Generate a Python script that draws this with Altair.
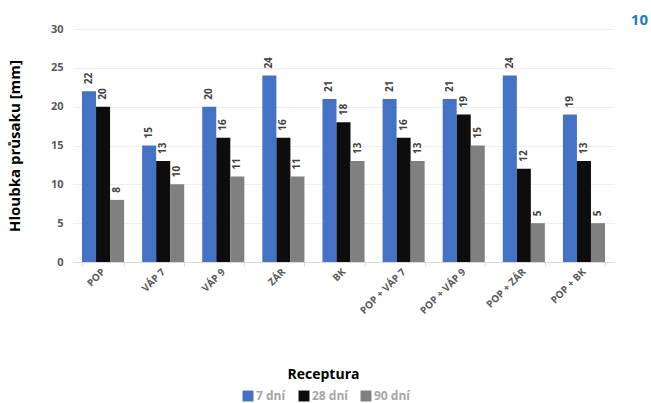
import altair as alt
import pandas as pd

categories = ["POP", "VÁP 7", "VÁP 9", "ZÁR", "BK", "POP + VÁP 7", "POP + VÁP 9", "POP + ZÁR", "POP + BK"]
series = ["7 dní", "28 dní", "90 dní"]
d7 = [22, 15, 20, 24, 21, 21, 21, 24, 19]
d28 = [20, 13, 16, 16, 18, 16, 19, 12, 13]
d90 = [8, 10, 11, 11, 13, 13, 15, 5, 5]
colors = ["#4472C4", "#0d0d0d", "#808080"]
y_ticks = [0, 5, 10, 15, 20, 25, 30]

rows = []
for s, vals in zip(series, [d7, d28, d90]):
    for c, v in zip(categories, vals):
        rows.append({"Receptura": c, "Serie": s, "Hodnota": v})
df = pd.DataFrame(rows)

FONT = "Open Sans"

x_enc = alt.X(
    "Receptura:N",
    sort=categories,
    scale=alt.Scale(paddingInner=0.3, paddingOuter=0.15),
    axis=alt.Axis(
        title="Receptura",
        labelAngle=-45,
        labelAlign="right",
        labelBaseline="middle",
        labelPadding=4,
        labelFontSize=10,
        labelFontWeight="bold",
        labelColor="#595959",
        labelFont=FONT,
        tickBand="extent",
        tickColor="#d9d9d9",
        tickSize=4,
        domainColor="#d9d9d9",
        titleFont=FONT,
        titleFontSize=14,
        titleFontWeight="bold",
        titleColor="#000000",
        titleX=250,
        titleY=116,
        titleAlign="center",
        titleBaseline="alphabetic",
    ),
)
xoff = alt.XOffset("Serie:N", sort=series)
y_enc = alt.Y(
    "Hodnota:Q",
    scale=alt.Scale(domain=[0, 30]),
    axis=alt.Axis(
        title="Hloubka průsaku [mm]",
        values=y_ticks,
        labelOverlap=False,
        labelFontSize=11,
        labelFontWeight="bold",
        labelColor="#595959",
        labelFont=FONT,
        labelPadding=10,
        ticks=False,
        domain=False,
        gridColor="#eeeeee",
        titleFont=FONT,
        titleFontSize=15,
        titleFontWeight="bold",
        titleColor="#000000",
        titleX=-51,
        titlePadding=0,
    ),
)

bars = alt.Chart(df).mark_bar().encode(
    x=x_enc,
    xOffset=xoff,
    y=y_enc,
    color=alt.Color(
        "Serie:N",
        sort=series,
        scale=alt.Scale(domain=series, range=colors),
        legend=alt.Legend(
            title=None,
            orient="none",
            direction="horizontal",
            legendX=169,
            legendY=361,
            symbolType="square",
            symbolSize=120,
            symbolStrokeWidth=0,
            symbolOpacity=1,
            labelFont=FONT,
            labelFontSize=12,
            labelFontWeight="bold",
            labelColor="#a6a6a6",
            labelOffset=2,
            columnPadding=12,
        ),
    ),
)

labels = alt.Chart(df).mark_text(
    angle=270,
    align="left",
    baseline="middle",
    dx=7,
    fontSize=10,
    fontWeight="bold",
    font=FONT,
    color="#404040",
).encode(
    x=x_enc,
    xOffset=xoff,
    y=y_enc,
    text="Hodnota:Q",
)

chart = (
    alt.layer(bars, labels)
    .properties(
        width=541,
        height=233,
        padding={"left": 73, "top": 29, "right": 37, "bottom": 141},
        autosize=alt.AutoSizeParams(type="none"),
        title=alt.TitleParams(
            text="10",
            anchor="end",
            orient="top",
            color="#1a7cc0",
            fontSize=15,
            fontWeight="bold",
            font=FONT,
            dx=34,
            dy=9,
        ),
        background="white",
    )
    .configure_view(stroke=None)
)

chart.save("out.html", embed_options={"renderer": "svg", "actions": False})
